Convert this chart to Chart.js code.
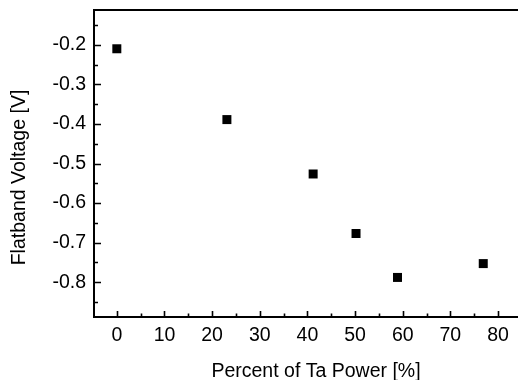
<!DOCTYPE html>
<html>
<head>
<meta charset="utf-8">
<script src="https://cdn.jsdelivr.net/npm/chart.js@4/dist/chart.umd.min.js"></script>
<style>
  html, body { margin: 0; padding: 0; background: #fff; overflow: hidden; }
  #wrap { width: 518px; height: 380px; position: relative; overflow: hidden; }
  #c { position: absolute; left: 0; top: 0; }
</style>
</head>
<body>
<div id="wrap"><canvas id="c" width="539" height="380"></canvas></div>
<script>
// ---- data ----
const taPower = [0, 23.1, 41.2, 50.2, 58.9, 76.9];                  // Percent of Ta Power [%]
const flatbandV = [-0.21, -0.389, -0.5265, -0.677, -0.788, -0.753]; // Flatband Voltage [V]
const xTicks = [0, 10, 20, 30, 40, 50, 60, 70, 80];
const yTicks = [-0.2, -0.3, -0.4, -0.5, -0.6, -0.7, -0.8];
const yTickLabels = ['-0.2', '-0.3', '-0.4', '-0.5', '-0.6', '-0.7', '-0.8'];
const xTitle = 'Percent of Ta Power [%]';
const yTitle = 'Flatband Voltage [V]';

const FONT = '"Liberation Sans", Arial, sans-serif';
const FSIZE = 19.5;

const framePlugin = {
  id: 'frame',
  afterDraw(chart) {
    const { ctx, chartArea: a, scales: { x, y } } = chart;
    ctx.save();
    ctx.strokeStyle = '#000';
    // frame lines: left, bottom, top
    ctx.lineWidth = 2;
    ctx.beginPath();
    ctx.moveTo(a.left + 1, a.top);
    ctx.lineTo(a.left + 1, a.bottom + 1);
    ctx.moveTo(a.left, a.bottom);
    ctx.lineTo(a.right, a.bottom);
    ctx.moveTo(a.left, a.top);
    ctx.lineTo(a.right, a.top);
    ctx.stroke();
    // ticks pointing inward
    ctx.lineWidth = 1.6;
    ctx.beginPath();
    const xStep = xTicks[1] - xTicks[0];
    for (let i = 0; i < xTicks.length; i++) {
      const v = xTicks[i];
      const px = Math.round(x.getPixelForValue(v)) + 0.5;
      ctx.moveTo(px, a.bottom); ctx.lineTo(px, a.bottom - 6);
      const m = v + xStep / 2;
      if (m <= x.max) {
        const pm = Math.round(x.getPixelForValue(m)) + 0.5;
        ctx.moveTo(pm, a.bottom); ctx.lineTo(pm, a.bottom - 3.5);
      }
    }
    const yStep = yTicks[0] - yTicks[1];
    for (let i = 0; i < yTicks.length; i++) {
      const v = yTicks[i];
      const py = Math.round(y.getPixelForValue(v)) + 0.5;
      ctx.moveTo(a.left + 1, py); ctx.lineTo(a.left + 8, py);
      for (const m of [v + yStep / 2, v - yStep / 2]) {
        if (m < y.max && m > y.min) {
          const pm = Math.round(y.getPixelForValue(m)) + 0.5;
          ctx.moveTo(a.left + 1, pm); ctx.lineTo(a.left + 5, pm);
        }
      }
    }
    ctx.stroke();
    // y-axis title (placed as in the reference, slightly below the plot centre)
    ctx.fillStyle = '#000';
    ctx.font = FSIZE + 'px ' + FONT;
    ctx.textAlign = 'center';
    ctx.textBaseline = 'alphabetic';
    ctx.translate(24.5, 177.5);
    ctx.rotate(-Math.PI / 2);
    ctx.fillText(yTitle, 0, 0);
    ctx.restore();
  }
};

new Chart(document.getElementById('c'), {
  type: 'scatter',
  data: {
    datasets: [{
      data: taPower.map((v, i) => ({ x: v, y: flatbandV[i] })),
      pointStyle: 'rect',
      pointRadius: 6.36,
      pointHoverRadius: 6.36,
      pointBorderWidth: 0,
      backgroundColor: '#000',
      borderColor: '#000'
    }]
  },
  options: {
    responsive: false,
    animation: false,
    events: [],
    layout: { autoPadding: false, padding: { top: 10, right: 0, bottom: 0, left: 0 } },
    plugins: { legend: { display: false }, tooltip: { enabled: false } },
    scales: {
      x: {
        type: 'linear',
        min: -5,
        max: 88.6,
        border: { display: false },
        grid: { display: false, drawTicks: false },
        afterBuildTicks: s => { s.ticks = xTicks.map(v => ({ value: v })); },
        afterFit: s => { s.height = 63; s.paddingLeft = 0; s.paddingRight = 0; },
        ticks: {
          autoSkip: false,
          maxRotation: 0,
          padding: 7,
          color: '#000',
          font: { family: FONT, size: FSIZE },
          callback: v => String(v)
        },
        title: {
          display: true,
          text: xTitle,
          color: '#000',
          font: { family: FONT, size: FSIZE },
          padding: { top: 0, bottom: -3 }
        }
      },
      y: {
        type: 'linear',
        min: -0.888,
        max: -0.112,
        border: { display: false },
        grid: { display: false, drawTicks: false },
        afterBuildTicks: s => { s.ticks = yTicks.map(v => ({ value: v })); },
        afterFit: s => { s.width = 93; s.paddingTop = 0; s.paddingBottom = 0; },
        ticks: {
          autoSkip: false,
          padding: 7,
          color: '#000',
          font: { family: FONT, size: FSIZE },
          callback: (v) => {
            const i = yTicks.findIndex(t => Math.abs(t - v) < 1e-9);
            return i >= 0 ? yTickLabels[i] : '';
          }
        },
        title: { display: false, text: yTitle }
      }
    }
  },
  plugins: [framePlugin]
});
</script>
</body>
</html>
